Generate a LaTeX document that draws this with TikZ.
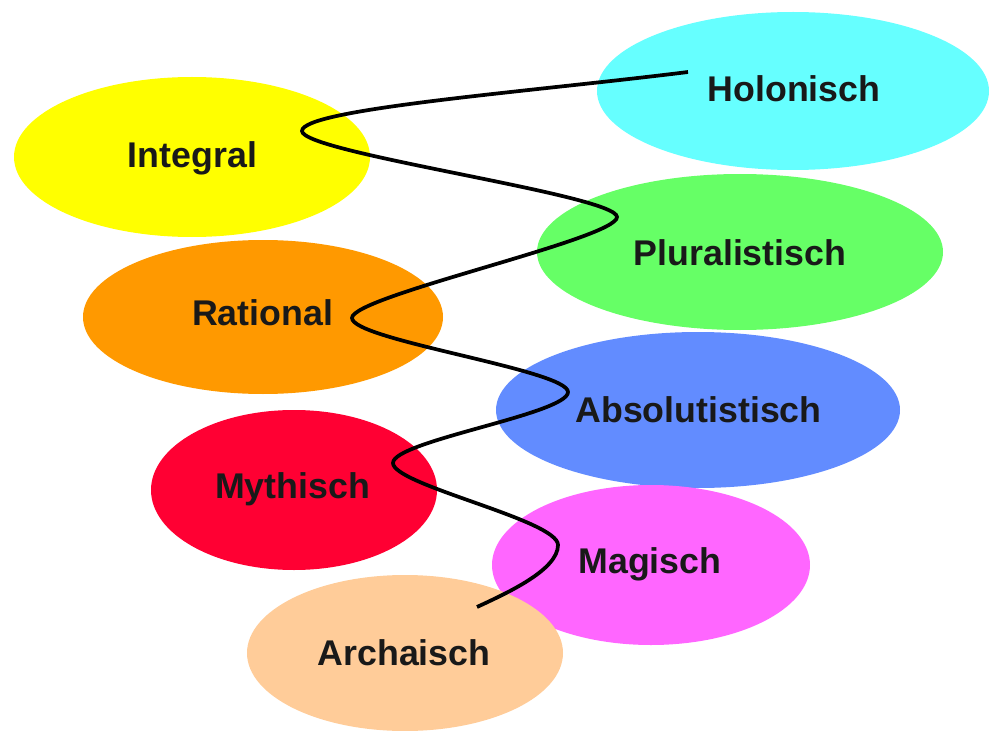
\documentclass[tikz,border=0pt]{standalone}
\usepackage{fontspec}
\setmainfont{Liberation Sans}
\usetikzlibrary{shapes.geometric}
\definecolor{cHol}{RGB}{102,255,255}
\definecolor{cInt}{RGB}{255,255,0}
\definecolor{cPlu}{RGB}{102,255,102}
\definecolor{cRat}{RGB}{255,153,0}
\definecolor{cAbs}{RGB}{98,140,255}
\definecolor{cMyt}{RGB}{255,0,51}
\definecolor{cMag}{RGB}{255,102,255}
\definecolor{cArc}{RGB}{255,204,153}
\tikzset{
  blob/.style={ellipse, draw=none, inner sep=0pt},
  lbl/.style={anchor=base, inner sep=0pt, font=\fontsize{26.8}{30}\selectfont\bfseries, text=black!90},
  wave/.style={line width=2.8pt, draw=black, line cap=butt}
}
\begin{document}
\begin{tikzpicture}[x=0.75pt,y=-0.75pt]
\useasboundingbox (0,0) rectangle (992,731);
% ellipses
\node[blob, fill=cHol, minimum width=294pt, minimum height=118.5pt] (hol) at (793,91) {};
\node[blob, fill=cInt, minimum width=267pt, minimum height=120pt] (int) at (192,157) {};
\node[blob, fill=cPlu, minimum width=304.5pt, minimum height=117pt] (plu) at (740,252) {};
\node[blob, fill=cRat, minimum width=270pt, minimum height=115.5pt] (rat) at (263,317) {};
\node[blob, fill=cAbs, minimum width=303pt, minimum height=117pt] (abs) at (698,410) {};
\node[blob, fill=cMyt, minimum width=214.5pt, minimum height=120pt] (myt) at (294,490) {};
\node[blob, fill=cMag, minimum width=238.5pt, minimum height=120pt] (mag) at (651,565) {};
\node[blob, fill=cArc, minimum width=237pt, minimum height=117pt] (arc) at (405,653) {};
% curve
\coordinate (s) at (688,72);
\coordinate (t1) at (302,131);
\coordinate (t2) at (617,217);
\coordinate (t3) at (352,318);
\coordinate (t4) at (568,392);
\coordinate (t5) at (393,463);
\coordinate (t6) at (558,545);
\coordinate (e) at (477,607);
\draw[wave] (s) .. controls +(-160,20) and +(0,-22) .. (t1)
  .. controls +(0,22) and +(0,-22) .. (t2)
  .. controls +(0,22) and +(0,-22) .. (t3)
  .. controls +(0,22) and +(0,-22) .. (t4)
  .. controls +(0,22) and +(0,-22) .. (t5)
  .. controls +(0,22) and +(0,-25) .. (t6)
  .. controls +(0,25) and +(30,-14) .. (e);
% labels
\node[lbl] (holT) at (794,102) {Holonisch};
\node[lbl] (intT) at (192.5,168) {Integral};
\node[lbl] (pluT) at (740,265) {Pluralistisch};
\node[lbl] (ratT) at (262.5,325) {Rational};
\node[lbl] (absT) at (698.5,422) {Absolutistisch};
\node[lbl] (mytT) at (292.5,498) {Mythisch};
\node[lbl] (magT) at (650,573) {Magisch};
\node[lbl] (arcT) at (404,665) {Archaisch};
\end{tikzpicture}
\end{document}
